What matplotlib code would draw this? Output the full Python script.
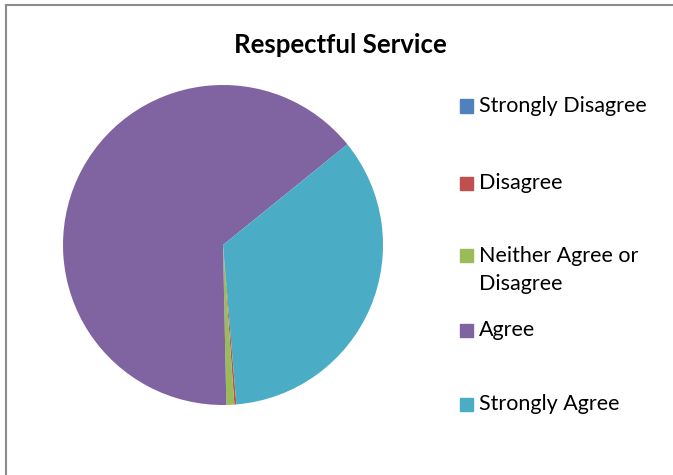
import matplotlib
matplotlib.use('Agg')
import matplotlib.pyplot as plt
from matplotlib.patches import Rectangle

labels = ['Strongly Disagree', 'Disagree', 'Neither Agree or\nDisagree', 'Agree', 'Strongly Agree']
values = [0.0, 0.2, 0.8, 64.5, 34.5]
colors = ['#4F81BD', '#C0504D', '#9BBB59', '#8064A2', '#4BACC6']

W, H = 673, 475
fig = plt.figure(figsize=(W / 100, H / 100), dpi=100)
fig.patch.set_facecolor('white')

# chart frame (left and top edges visible)
fig.add_artist(plt.Line2D([5.5 / W, 5.5 / W], [0, 1 - 5 / H], color='#8c8c8c', lw=1.5))
fig.add_artist(plt.Line2D([5.5 / W, 1], [1 - 5 / H, 1 - 5 / H], color='#8c8c8c', lw=1.5))

ax = fig.add_axes([63 / W, (H - 405) / H, 320 / W, 320 / H])
ax.pie(values, colors=colors, startangle=-85.2, counterclock=False,
       wedgeprops=dict(linewidth=0))
ax.set_xlim(-1, 1)
ax.set_ylim(-1, 1)
ax.set_aspect('equal')
ax.axis('off')

fig.text(340 / W, 1 - 45 / H, 'Respectful Service', ha='center', va='center',
         fontsize=18.5, fontweight='bold', family='Lato')

# legend entries
ys = [106, 183, 270, 330, 404]
for lab, col, y in zip(labels, colors, ys):
    sq_y = y if '\n' not in lab else 255
    fig.add_artist(Rectangle((460 / W, 1 - (sq_y + 6.5) / H), 13 / W, 13 / H,
                             color=col, transform=fig.transFigure))
    fig.text(479 / W, 1 - y / H, lab, ha='left', va='center', fontsize=15.5,
             family='Lato', linespacing=1.5)

fig.savefig('out.png', dpi=100)
